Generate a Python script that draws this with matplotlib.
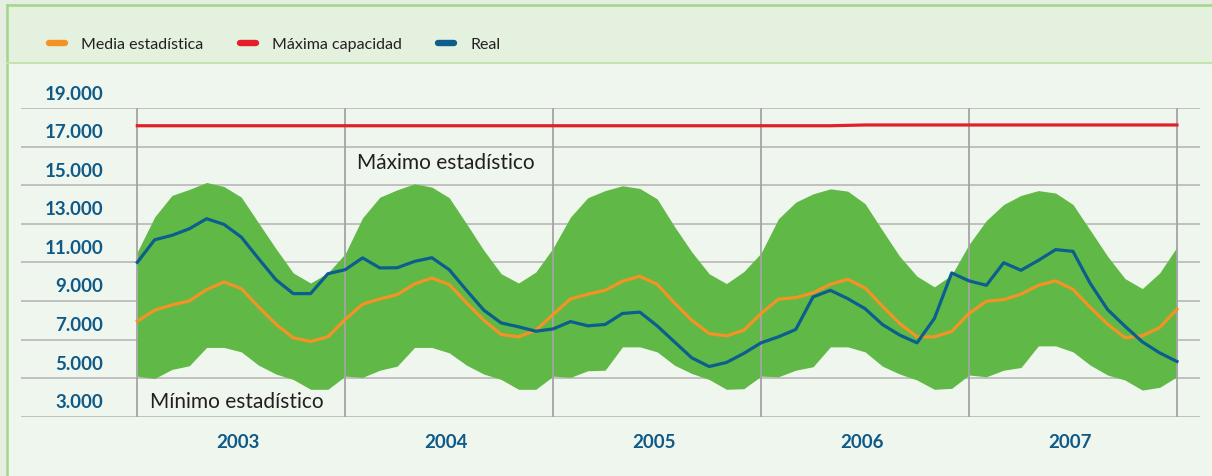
import matplotlib
matplotlib.use('Agg')
import matplotlib.pyplot as plt
import matplotlib.transforms as mtransforms
import numpy as np
from matplotlib.lines import Line2D
from matplotlib.patches import Rectangle

plt.rcParams['font.family'] = ['Lato', 'DejaVu Sans']

# monthly data, Jan 2003 .. Jan 2008
years = ['2003', '2004', '2005', '2006', '2007']
months = np.arange(61)

media = [7950, 8520, 8790, 9000, 9590, 9980, 9640, 8690, 7790, 7090, 6900, 7140,
         8040, 8830, 9100, 9330, 9880, 10190, 9850, 8900, 8000, 7260, 7140, 7480,
         8300, 9100, 9350, 9550, 10020, 10280, 9860, 8900, 8000, 7310, 7190, 7480,
         8350, 9090, 9170, 9420, 9860, 10120, 9670, 8730, 7830, 7140, 7140, 7420,
         8350, 8980, 9070, 9350, 9810, 10040, 9600, 8660, 7790, 7100, 7190, 7620, 8570]

real = [11000, 12170, 12400, 12740, 13260, 12970, 12310, 11190, 10100, 9380, 9380, 10410,
        10620, 11230, 10710, 10720, 11050, 11240, 10620, 9550, 8520, 7860, 7660, 7430,
        7550, 7930, 7710, 7780, 8350, 8420, 7710, 6880, 6050, 5600, 5810, 6280,
        6830, 7140, 7520, 9210, 9550, 9120, 8600, 7780, 7230, 6830, 8090, 10450,
        10040, 9810, 10980, 10590, 11100, 11660, 11570, 9900, 8550, 7690, 6880, 6310, 5860]

maximo = [11540, 13350, 14470, 14780, 15140, 14930, 14380, 13040, 11710, 10450, 9930, 10450,
          11450, 13310, 14380, 14760, 15070, 14900, 14350, 13000, 11620, 10410, 9930, 10500,
          11750, 13350, 14350, 14720, 14970, 14830, 14290, 12860, 11540, 10410, 9900, 10520,
          11480, 13260, 14120, 14550, 14810, 14690, 14040, 12660, 11310, 10280, 9730, 10350,
          11930, 13170, 14000, 14470, 14720, 14590, 14000, 12660, 11310, 10160, 9640, 10450, 11790]

minimo = [5100, 4980, 5450, 5640, 6590, 6590, 6360, 5670, 5210, 4930, 4420, 4420,
          5100, 5040, 5410, 5620, 6590, 6590, 6310, 5670, 5210, 4930, 4420, 4420,
          5100, 5040, 5380, 5410, 6620, 6620, 6360, 5670, 5240, 4930, 4420, 4450,
          5100, 5070, 5410, 5590, 6620, 6620, 6360, 5620, 5210, 4900, 4420, 4470,
          5160, 5070, 5410, 5550, 6670, 6670, 6360, 5670, 5160, 4900, 4380, 4520, 5070]

cap_months = [0, 40, 42, 60]
capacidad = [18080, 18080, 18120, 18120]

yticks = [3000, 5000, 7000, 9000, 11000, 13000, 15000, 17000, 19000]

GREEN = '#60b946'
ORANGE = '#f39325'
RED = '#e3202a'
BLUE = '#0b5e8e'
LABEL = '#0f5a87'

W, H = 1212, 476
fig = plt.figure(figsize=(W / 100, H / 100), dpi=100, facecolor='#e6eee4')

# panel, header band and frame (behind the axes)
fig.patches.append(Rectangle((6 / W, 0), 1, 1 - 5 / H, transform=fig.transFigure,
                             facecolor='#eff6ee', edgecolor='none', zorder=-3))
fig.patches.append(Rectangle((6 / W, 1 - 63 / H), 1, 58 / H, transform=fig.transFigure,
                             facecolor='#e5f1df', edgecolor='none', zorder=-2))
fig.add_artist(Line2D([7 / W, 7 / W], [0, 1 - 5 / H], color='#a3d68b', lw=1.8,
                      transform=fig.transFigure))
fig.add_artist(Line2D([7 / W, 1], [1 - 5 / H, 1 - 5 / H], color='#a3d68b', lw=1.8,
                      transform=fig.transFigure))
fig.add_artist(Line2D([7 / W, 1], [1 - 63 / H, 1 - 63 / H], color='#c3e3b0', lw=1.5,
                      transform=fig.transFigure))

ax = fig.add_axes([20.7 / W, 1 - 416.7 / H, (1200 - 20.7) / W, (416.7 - 108) / H])
ax.set_facecolor('none')
ax.set_xlim(-6.73, 61.33)
ax.set_ylim(3000, 19000)
for s in ax.spines.values():
    s.set_visible(False)
ax.set_xticks([])
ax.set_yticks([])

for v in yticks:
    ax.axhline(v, color='#bcbcbc', lw=1.3, zorder=1)

ax.fill_between(months, minimo, maximo, color=GREEN, lw=0, zorder=2)
ax.vlines(months[::12], 3000, 19000, color='#a4a4a4', lw=1.3, zorder=3)

ax.plot(cap_months, capacidad, color=RED, lw=2.3, zorder=4)
ax.plot(months, media, color=ORANGE, lw=2.3, zorder=4)
ax.plot(months, real, color=BLUE, lw=2.3, zorder=5)

# value labels sit just above their grid line
above = mtransforms.offset_copy(ax.transData, fig=fig, x=0, y=8.5, units='dots')
for v in yticks:
    ax.text(-1.96, v, f'{v:,}'.replace(',', '.'), transform=above, ha='right',
            va='baseline', fontsize=13.5, fontweight='bold', color=LABEL)

for m, y in zip(months[6::12], years):
    ax.text(m - 0.2, -0.082, y, transform=ax.get_xaxis_transform(), ha='center', va='center',
            fontsize=13.5, fontweight='bold', color=LABEL)

ax.text(0.73, 3770, 'Mínimo estadístico', fontsize=15, color='#231f20', va='center')
ax.text(12.68, 16150, 'Máximo estadístico', fontsize=15, color='#231f20', va='center')

handles = [Line2D([], [], color=c, lw=4.6, solid_capstyle='round') for c in (ORANGE, RED, BLUE)]
fig.legend(handles, ['Media estadística', 'Máxima capacidad', 'Real'], ncol=3,
           loc='center left', bbox_to_anchor=(49 / W, 1 - 45 / H), frameon=False,
           borderpad=0, borderaxespad=0, handlelength=1.0, handletextpad=1.0,
           columnspacing=2.3, prop={'size': 11.5}, labelcolor='#231f20')

fig.savefig('out.png', dpi=100, facecolor=fig.get_facecolor())
